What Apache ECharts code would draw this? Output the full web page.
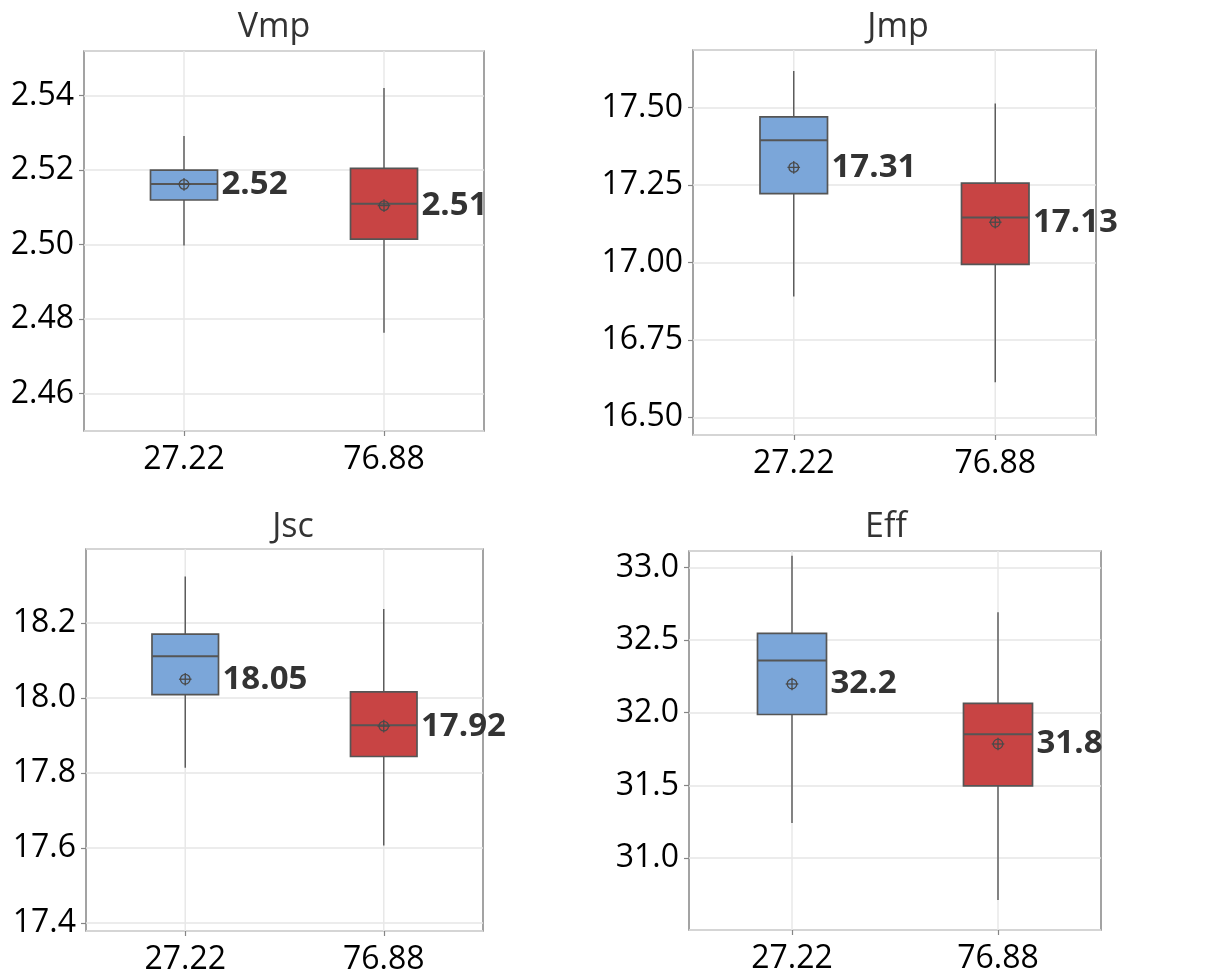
<!DOCTYPE html>
<html>
<head>
<meta charset="utf-8">
<script src="https://cdn.jsdelivr.net/npm/echarts@6/dist/echarts.min.js"></script>
<style>
  html, body { margin: 0; padding: 0; background: #fff; }
  #chart { width: 1207px; height: 980px; }
</style>
</head>
<body>
<div id="chart"></div>
<script>
// ---- data ----
const categories = ['27.22', '76.88'];
const panelTitles = ['Vmp', 'Jmp', 'Jsc', 'Eff'];

// [min, Q1, median, Q3, max]
const vmpBox = [[2.4998, 2.5120, 2.5163, 2.5200, 2.5292], [2.4764, 2.5015, 2.5110, 2.5205, 2.5421]];
const vmpMean = [2.5162, 2.5105];
const vmpMeanLabel = ['2.52', '2.51'];

const jmpBox = [[16.890, 17.222, 17.395, 17.470, 17.618], [16.613, 16.994, 17.145, 17.256, 17.513]];
const jmpMean = [17.307, 17.130];
const jmpMeanLabel = ['17.31', '17.13'];

const jscBox = [[17.814, 18.009, 18.111, 18.170, 18.324], [17.607, 17.844, 17.927, 18.016, 18.237]];
const jscMean = [18.050, 17.925];
const jscMeanLabel = ['18.05', '17.92'];

const effBox = [[31.242, 31.988, 32.359, 32.546, 33.081], [30.712, 31.497, 31.852, 32.064, 32.692]];
const effMean = [32.198, 31.785];
const effMeanLabel = ['32.2', '31.8'];

const yRanges = [[2.450, 2.552], [16.443, 17.686], [17.379, 18.397], [30.505, 33.113]];
const yTickSteps = [0.02, 0.25, 0.2, 0.5];
const yTickDecimals = [2, 2, 1, 1];

// ---- layout ----
const grids = [
  { left: 84, top: 51, width: 400, height: 380 },
  { left: 693, top: 50, width: 403, height: 385 },
  { left: 86, top: 549, width: 397, height: 382 },
  { left: 689, top: 551, width: 412, height: 379 }
];
const titlePos = [
  { x: 269, y: 5 }, { x: 893, y: 5 }, { x: 288, y: 505 }, { x: 881, y: 505 }
];
const boxColors = ['#7ba6d9', '#c84444'];
const lineColor = '#555555';
const FONT = '"Open Sans", "Noto Sans", sans-serif';

const panels = [
  { box: vmpBox, mean: vmpMean, label: vmpMeanLabel },
  { box: jmpBox, mean: jmpMean, label: jmpMeanLabel },
  { box: jscBox, mean: jscMean, label: jscMeanLabel },
  { box: effBox, mean: effMean, label: effMeanLabel }
];

function makeRender(panel) {
  return function (params, api) {
    const i = params.dataIndex;
    const x = api.value(0);
    const band = api.size([1, 0])[0];
    const half = band * 0.335 / 2;
    const pMin = api.coord([x, api.value(1)]);
    const pQ1 = api.coord([x, api.value(2)]);
    const pMed = api.coord([x, api.value(3)]);
    const pQ3 = api.coord([x, api.value(4)]);
    const pMax = api.coord([x, api.value(5)]);
    const pMean = api.coord([x, api.value(6)]);
    const cx = pMed[0];
    const cs = params.coordSys;
    const r = 4.8;
    return {
      type: 'group',
      children: [
        { type: 'line', shape: { x1: cx, y1: cs.y, x2: cx, y2: cs.y + cs.height },
          style: { stroke: '#e8e8e8', lineWidth: 1.5 } },
        { type: 'line', shape: { x1: cx, y1: pMax[1], x2: cx, y2: pMin[1] },
          style: { stroke: lineColor, lineWidth: 1.4 } },
        { type: 'rect', shape: { x: cx - half, y: pQ3[1], width: half * 2, height: pQ1[1] - pQ3[1] },
          style: { fill: boxColors[i], stroke: lineColor, lineWidth: 1.7 } },
        { type: 'line', shape: { x1: cx - half, y1: pMed[1], x2: cx + half, y2: pMed[1] },
          style: { stroke: lineColor, lineWidth: 2 } },
        { type: 'circle', shape: { cx: cx, cy: pMean[1], r: r },
          style: { fill: 'none', stroke: '#4a4a4a', lineWidth: 1.3 } },
        { type: 'line', shape: { x1: cx - r - 1.5, y1: pMean[1], x2: cx + r + 1.5, y2: pMean[1] },
          style: { stroke: '#4a4a4a', lineWidth: 1.3 } },
        { type: 'line', shape: { x1: cx, y1: pMean[1] - r - 1.5, x2: cx, y2: pMean[1] + r + 1.5 },
          style: { stroke: '#4a4a4a', lineWidth: 1.3 } },
        { type: 'text', x: cx + half + 4, y: pMean[1],
          style: { text: panel.label[i], fill: '#333333', fontSize: 33, fontWeight: 'bold',
                   fontFamily: FONT, align: 'left', verticalAlign: 'middle' } }
      ]
    };
  };
}

const option = {
  backgroundColor: '#ffffff',
  animation: false,
  title: panelTitles.map((t, k) => ({
    text: t,
    left: titlePos[k].x,
    top: titlePos[k].y,
    textAlign: 'center',
    textStyle: { fontFamily: FONT, fontSize: 34, fontWeight: 'normal', color: '#333333' }
  })),
  grid: grids.map(g => Object.assign({
    show: true, borderColor: '#858585', borderWidth: 1.5, backgroundColor: 'transparent'
  }, g)),
  xAxis: grids.map((g, k) => ({
    type: 'category',
    gridIndex: k,
    data: categories,
    boundaryGap: true,
    axisLine: { show: false },
    axisTick: { show: true, alignWithLabel: true, length: 5, lineStyle: { color: '#858585', width: 1.2 } },
    axisLabel: { fontFamily: FONT, fontSize: 32, color: '#000', margin: 13 },
    splitLine: { show: false }
  })),
  yAxis: grids.map((g, k) => ({
    type: 'value',
    gridIndex: k,
    min: yRanges[k][0],
    max: yRanges[k][1],
    minInterval: yTickSteps[k],
    maxInterval: yTickSteps[k],
    axisLine: { show: false },
    axisTick: { show: true, length: 5, lineStyle: { color: '#858585', width: 1.2 } },
    axisLabel: {
      fontFamily: FONT, fontSize: 32, color: '#000', margin: 10,
      showMinLabel: false, showMaxLabel: false,
      formatter: v => v.toFixed(yTickDecimals[k])
    },
    splitLine: { show: true, lineStyle: { color: '#e6e6e6', width: 1.5 } }
  })),
  series: panels.map((p, k) => ({
    type: 'custom',
    xAxisIndex: k,
    yAxisIndex: k,
    renderItem: makeRender(p),
    encode: { x: 0, y: [1, 2, 3, 4, 5, 6] },
    clip: false,
    data: p.box.map((b, i) => [i].concat(b).concat([p.mean[i]]))
  }))
};

const chart = echarts.init(document.getElementById('chart'), null, { renderer: 'canvas' });
chart.setOption(option);
</script>
</body>
</html>
